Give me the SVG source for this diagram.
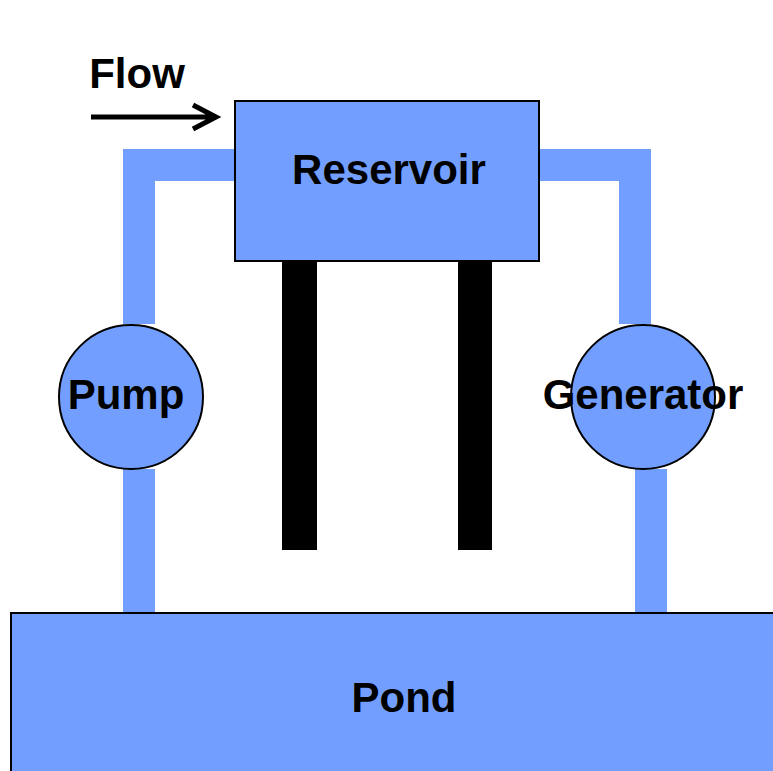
<svg xmlns="http://www.w3.org/2000/svg" width="773" height="771" viewBox="0 0 773 771">
<style>
.fill{fill:#729fff}
.box{fill:#729fff;stroke:#000;stroke-width:2}
.lbl{font-family:"Liberation Sans",Arial,sans-serif;font-weight:bold;font-size:42px;fill:#000;text-anchor:middle}
.post{fill:#000}
</style>
<rect width="773" height="771" fill="#fff"/>
<g id="connectors">
<path class="fill" d="M123 149H235V181H155V324H123Z"/>
<path class="fill" d="M539 149H651V324H619V181H539Z"/>
<rect class="fill" x="123" y="469" width="32" height="144"/>
<rect class="fill" x="635" y="469" width="32" height="144"/>
</g>
<g id="posts">
<rect class="post" x="282" y="260" width="35" height="290"/>
<rect class="post" x="458" y="260" width="34" height="290"/>
</g>
<g id="reservoir">
<rect class="box" x="235" y="101" width="304" height="160"/>
<text class="lbl" x="389" y="184">Reservoir</text>
</g>
<g id="pump">
<circle class="box" cx="131" cy="397" r="72"/>
<text class="lbl" x="126" y="409">Pump</text>
</g>
<g id="generator">
<circle class="box" cx="643" cy="397" r="72"/>
<text class="lbl" x="643" y="409">Generator</text>
</g>
<g id="pond">
<rect class="box" x="11" y="613" width="780" height="180"/>
<text class="lbl" x="404" y="712">Pond</text>
</g>
<g id="flow">
<text class="lbl" x="137" y="88">Flow</text>
<path d="M91 117H216M193 105L216 117L193 129" fill="none" stroke="#000" stroke-width="5"/>
</g>
</svg>
